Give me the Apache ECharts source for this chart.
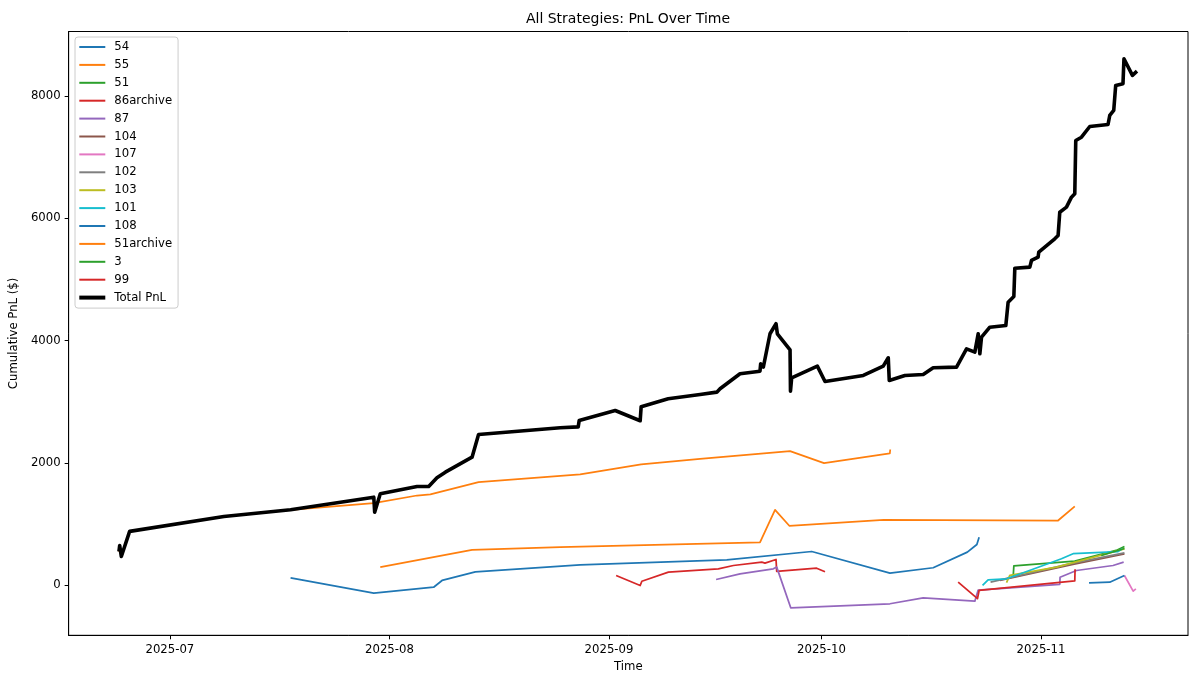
<!DOCTYPE html>
<html>
<head>
<meta charset="utf-8">
<script src="https://cdn.jsdelivr.net/npm/echarts@6/dist/echarts.min.js"></script>
<style>
  html, body { margin: 0; padding: 0; background: #fff; }
  #chart { width: 1200px; height: 685px; }
</style>
</head>
<body>
<div id="chart"></div>
<script>
// ---- Data ----
const seriesNames = ['54','55','51','86archive','87','104','107','102','103','101','108','51archive','3','99','Total PnL'];

const s54 = [['2025-07-18 01:00',121],['2025-07-29 19:00',-131],['2025-08-07 05:50',-33],['2025-08-08 10:20',77],['2025-08-13 03:00',219],['2025-08-27 22:20',334],['2025-09-17 15:10',415],['2025-09-29 15:00',551],['2025-10-10 16:00',196],['2025-10-16 18:30',285],['2025-10-21 14:20',540],['2025-10-22 22:30',666],['2025-10-23 06:10',785]];
const s55 = [['2025-06-23 19:30',550],['2025-06-23 22:00',650],['2025-06-24 03:30',470],['2025-06-25 07:40',880],['2025-07-08 15:00',1124],['2025-07-18 01:00',1233],['2025-07-29 19:00',1342],['2025-08-04 21:30',1467],['2025-08-06 18:40',1484],['2025-08-13 14:00',1685],['2025-08-27 22:20',1811],['2025-09-05 13:00',1975],['2025-09-13 20:40',2068],['2025-09-26 13:30',2192],['2025-10-01 08:40',1996],['2025-10-10 15:40',2156],['2025-10-10 17:00',2220]];
const s51 = [['2025-10-28 01:30',126],['2025-10-28 03:50',314],['2025-11-05 18:00',395],['2025-11-11 14:30',568],['2025-11-12 18:40',633]];
const s86archive = [['2025-09-02 00:10',159],['2025-09-05 09:40',-5],['2025-09-05 15:20',65],['2025-09-09 09:20',213],['2025-09-16 10:30',268],['2025-09-18 13:30',322],['2025-09-22 13:40',376],['2025-09-23 00:40',360],['2025-09-24 14:00',420],['2025-09-24 16:20',224],['2025-09-30 07:40',278],['2025-10-01 12:00',219]];
const s87 = [['2025-09-16 03:00',93],['2025-09-19 12:00',186],['2025-09-24 04:50',268],['2025-09-24 16:20',295],['2025-09-26 15:50',-370],['2025-10-10 16:00',-304],['2025-10-15 08:40',-206],['2025-10-22 15:40',-262],['2025-10-23 03:00',-80],['2025-11-03 15:30',15],['2025-11-03 16:30',130],['2025-11-06 00:00',240],['2025-11-11 04:00',322],['2025-11-12 16:00',376]];
const s104 = [['2025-10-26 04:20',80],['2025-11-05 12:00',340],['2025-11-12 18:40',510]];
const s107 = [['2025-11-12 18:40',159],['2025-11-14 00:10',-98],['2025-11-14 09:20',-59]];
const s102 = [['2025-10-24 21:00',49],['2025-11-05 12:30',360],['2025-11-12 18:40',530]];
const s103 = [['2025-10-27 03:00',40],['2025-10-27 14:10',159],['2025-11-03 04:20',295],['2025-11-12 18:40',595]];
const s101 = [['2025-10-23 17:50',-5],['2025-10-24 12:40',88],['2025-10-27 03:00',105],['2025-10-30 15:40',252],['2025-11-03 21:10',432],['2025-11-05 12:30',515],['2025-11-11 21:00',550],['2025-11-12 11:00',595]];
const s108 = [['2025-11-07 18:40',39],['2025-11-10 16:50',49],['2025-11-12 18:40',159]];
const s51archive = [['2025-07-30 17:00',294],['2025-08-12 16:00',579],['2025-08-25 02:40',622],['2025-09-22 07:40',699],['2025-09-24 10:40',1233],['2025-09-26 11:00',972],['2025-10-09 19:00',1070],['2025-11-03 09:50',1058],['2025-11-05 18:20',1288]];
const s3 = [['2025-11-09 12:00',485],['2025-11-12 18:40',600]];
const s99 = [['2025-10-20 07:10',49],['2025-10-23 00:40',-220],['2025-10-23 06:10',-87],['2025-11-05 18:20',70],['2025-11-05 19:20',260]];
const sTotal = [['2025-06-23 19:30',550],['2025-06-23 22:00',650],['2025-06-24 03:30',470],['2025-06-25 07:40',880],['2025-07-08 15:00',1124],['2025-07-18 01:00',1233],['2025-07-29 19:00',1440],['2025-07-29 22:00',1194],['2025-07-30 17:00',1495],['2025-08-04 21:30',1615],['2025-08-06 13:00',1615],['2025-08-07 17:00',1757],['2025-08-08 21:30',1849],['2025-08-12 16:00',2094],['2025-08-13 14:00',2465],['2025-08-25 02:40',2575],['2025-08-27 15:40',2590],['2025-08-27 19:00',2694],['2025-09-01 21:00',2857],['2025-09-05 09:40',2690],['2025-09-05 13:00',2920],['2025-09-09 08:30',3050],['2025-09-13 20:40',3120],['2025-09-16 05:20',3158],['2025-09-16 16:20',3213],['2025-09-19 12:00',3459],['2025-09-22 07:40',3501],['2025-09-22 10:00',3622],['2025-09-22 19:00',3567],['2025-09-23 17:40',4113],['2025-09-24 14:00',4277],['2025-09-24 18:30',4113],['2025-09-26 13:30',3851],['2025-09-26 15:00',3174],['2025-09-26 19:00',3393],['2025-09-30 10:00',3583],['2025-10-01 12:00',3333],['2025-10-06 21:40',3431],['2025-10-09 17:20',3583],['2025-10-10 10:20',3720],['2025-10-10 13:40',3349],['2025-10-12 18:40',3431],['2025-10-15 08:40',3447],['2025-10-16 18:30',3557],['2025-10-20 01:40',3567],['2025-10-21 11:30',3867],['2025-10-22 15:40',3812],['2025-10-23 03:00',4113],['2025-10-23 08:40',3786],['2025-10-23 14:20',4058],['2025-10-24 18:30',4221],['2025-10-27 00:40',4249],['2025-10-27 08:30',4630],['2025-10-28 03:50',4723],['2025-10-28 07:10',5186],['2025-10-30 10:00',5203],['2025-10-30 15:40',5312],['2025-10-31 14:00',5366],['2025-10-31 16:20',5448],['2025-11-02 22:30',5667],['2025-11-03 09:50',5721],['2025-11-03 15:30',6102],['2025-11-04 14:10',6184],['2025-11-05 07:10',6348],['2025-11-05 18:20',6403],['2025-11-05 21:40',7275],['2025-11-06 17:00',7329],['2025-11-07 21:10',7504],['2025-11-10 11:00',7537],['2025-11-10 16:50',7684],['2025-11-11 06:20',7766],['2025-11-11 13:00',8175],['2025-11-12 13:40',8203],['2025-11-12 17:00',8612],['2025-11-13 21:40',8340],['2025-11-14 13:10',8410]];

const seriesData = [s54, s55, s51, s86archive, s87, s104, s107, s102, s103, s101, s108, s51archive, s3, s99, sTotal];

const xTickLabels = ['2025-07-01','2025-08-01','2025-09-01','2025-10-01','2025-11-01'];
const yTickValues = [0, 2000, 4000, 6000, 8000];

// ---- Styling ----
const colors = ['#1f77b4','#ff7f0e','#2ca02c','#d62728','#9467bd','#8c564b','#e377c2','#7f7f7f','#bcbd22','#17becf','#1f77b4','#ff7f0e','#2ca02c','#d62728','#000000'];
const FONT = 'DejaVu Sans';
function ts(s) {
  const p = s.split(/[- :]/).map(Number);
  return Date.UTC(p[0], p[1] - 1, p[2], p[3] || 0, p[4] || 0);
}
function fmtMonth(v) {
  const d = new Date(v);
  return d.getUTCFullYear() + '-' + String(d.getUTCMonth() + 1).padStart(2, '0');
}

const series = seriesNames.map((name, i) => ({
  name: name,
  type: 'line',
  data: seriesData[i].map(p => [ts(p[0]), p[1]]),
  showSymbol: false,
  symbol: 'none',
  lineStyle: { color: colors[i], width: name === 'Total PnL' ? 3.6 : 1.75, join: 'round', cap: 'butt' },
  itemStyle: { color: colors[i] },
  emphasis: { disabled: true },
  z: name === 'Total PnL' ? 5 : 2
}));

const chart = echarts.init(document.getElementById('chart'), null, { renderer: 'canvas' });
chart.setOption({
  animation: false,
  backgroundColor: '#ffffff',
  title: {
    text: 'All Strategies: PnL Over Time',
    left: 628, top: 12, textAlign: 'center', padding: 0,
    textStyle: { fontFamily: FONT, fontSize: 14, fontWeight: 'normal', color: '#000' }
  },
  legend: {
    orient: 'vertical',
    left: 75, top: 37,
    padding: [3, 6, 3.5, 2.3],
    itemWidth: 26, itemHeight: 14, itemGap: 3.9,
    backgroundColor: 'rgba(255,255,255,0.8)',
    borderColor: '#cccccc', borderWidth: 1, borderRadius: 3,
    itemStyle: { opacity: 0 },
    textStyle: { fontFamily: FONT, fontSize: 11.7, color: '#000', lineHeight: 14, padding: [0, 0, 0, 4] },
    data: seriesNames.map(n => n === 'Total PnL' ? { name: n, lineStyle: { width: 4 } } : { name: n, lineStyle: { width: 2 } })
  },
  grid: {
    left: 68.3, right: 12, top: 31.5, bottom: 49.7,
    show: true, borderColor: '#000', borderWidth: 1, backgroundColor: 'transparent',
    containLabel: false
  },
  xAxis: {
    type: 'value',
    min: ts('2025-06-16 17:00'),
    max: ts('2025-11-21 18:00'),
    name: 'Time', nameLocation: 'middle', nameGap: 25,
    nameTextStyle: { fontFamily: FONT, fontSize: 11.7, color: '#000' },
    axisLine: { show: true, onZero: false, lineStyle: { color: '#000', width: 1 } },
    axisTick: { show: true, length: 4, lineStyle: { color: '#000' }, customValues: xTickLabels.map(ts) },
    axisLabel: {
      fontFamily: FONT, fontSize: 11.7, color: '#000', margin: 9,
      customValues: xTickLabels.map(ts),
      formatter: v => fmtMonth(v)
    },
    splitLine: { show: false },
    minorTick: { show: false }
  },
  yAxis: {
    type: 'value',
    min: -820, max: 9058,
    name: 'Cumulative PnL ($)', nameLocation: 'middle', nameGap: 42,
    nameTextStyle: { fontFamily: FONT, fontSize: 11.7, color: '#000' },
    axisLine: { show: true, onZero: false, lineStyle: { color: '#000', width: 1 } },
    axisTick: { show: true, length: 4, lineStyle: { color: '#000' }, customValues: yTickValues },
    axisLabel: {
      fontFamily: FONT, fontSize: 11.7, color: '#000', margin: 8,
      customValues: yTickValues,
      formatter: v => String(v)
    },
    splitLine: { show: false }
  },
  series: series
});
</script>
</body>
</html>
